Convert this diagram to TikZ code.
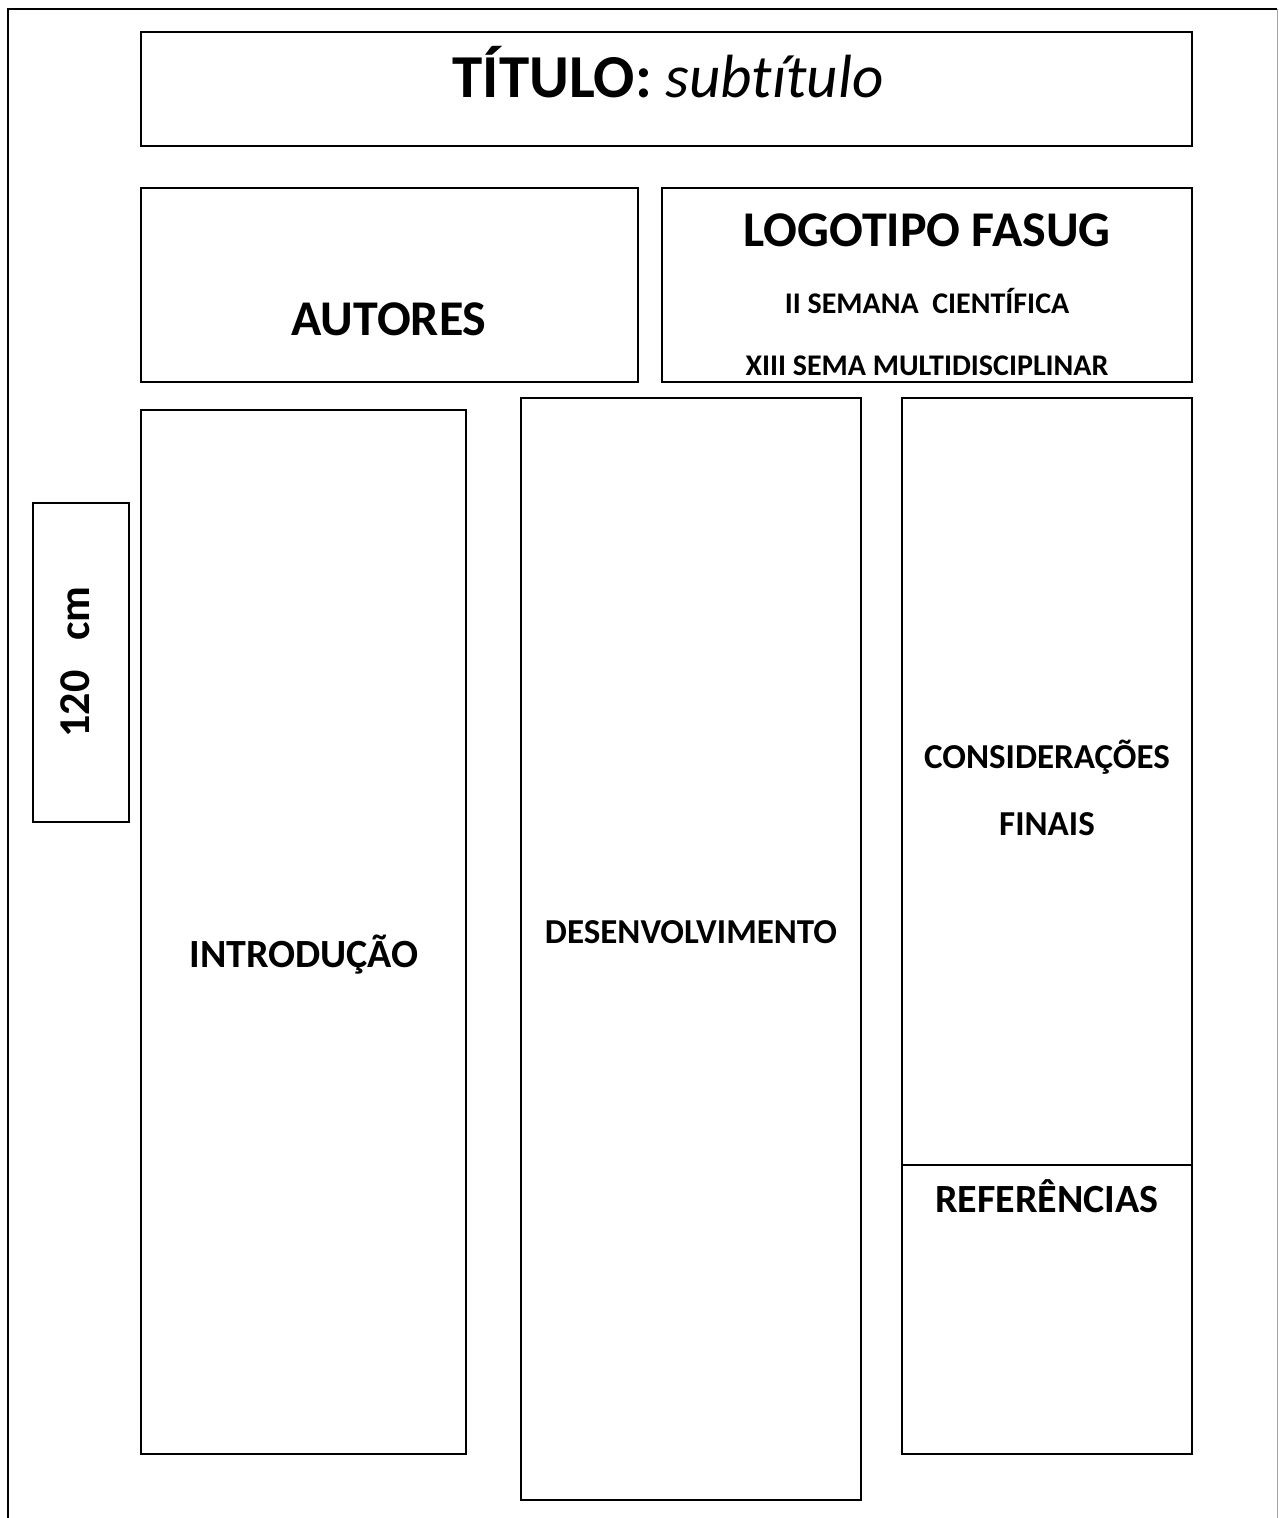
\documentclass[tikz,border=0pt]{standalone}
\usepackage{fontspec}
\setmainfont{Carlito}[Ligatures={NoCommon}]
\usetikzlibrary{positioning}
\tikzset{
  bloco/.style   = {draw, line width=1.5pt},
  moldura/.style = {line width=1.5pt},
  rotulo/.style  = {anchor=base, inner sep=0pt, font=\bfseries},
  grande/.style  = {rotulo, font=\fontsize{50}{60}\selectfont\bfseries},
  medio/.style   = {rotulo, font=\fontsize{40}{48}\selectfont\bfseries},
  menor/.style   = {rotulo, font=\fontsize{35}{42}\selectfont\bfseries},
  miudo/.style   = {rotulo, font=\fontsize{30}{36}\selectfont\bfseries},
}

\begin{document}
\begin{tikzpicture}[x=1pt, y=-1pt]

\useasboundingbox (0,0) rectangle (1278,1518);

% moldura do painel
\draw[moldura] (8,1518) -- (8,9) -- (1277,9);
\draw[line width=1pt, black!35] (1277,9) -- (1277,1518);

% caixas
\draw[bloco] (141,32) rectangle (1192,146);
\draw[bloco] (141,188) rectangle (638,382);
\draw[bloco] (662,188) rectangle (1192,382);
\draw[bloco] (33,503) rectangle (129,822);
\draw[bloco] (141,410) rectangle (466,1454);
\draw[bloco] (521,398) rectangle (861,1500);
\draw[bloco] (902,398) rectangle (1192,1454);
\draw[bloco] (902,1165) -- (1192,1165);

% textos
\node[rotulo, font=\fontsize{61}{72}\selectfont] (titulo) at (668,97)
  {\textbf{TÍTULO:} \textit{subt\kern0ptítulo}};
\node[grande] (autores) at (389,335) {AUTORES};
\node[grande] (logo) at (927,246) {LOGOTIPO FASUG};
\node[miudo] (semana) at (927,313) {II SEMANA\ \ CIENTÍFICA};
\node[miudo] (sema) at (927,375) {XIII SEMA MULTIDISCIPLINAR};
\node[rotulo, rotate=90, font=\fontsize{44}{52}\selectfont\bfseries] (medida) at (89,662) {120\ \ \ cm};
\node[medio] (intro) at (304,967) {INTRODUÇÃO};
\node[menor] (desenv) at (691,943) {DESENVOLVIMENTO};
\node[menor] (consid) at (1047,768) {CONSIDERAÇÕES};
\node[menor] (finais) at (1047,835) {FINAIS};
\node[medio] (refs) at (1047,1212) {REFERÊNCIAS};

\end{tikzpicture}
\end{document}
